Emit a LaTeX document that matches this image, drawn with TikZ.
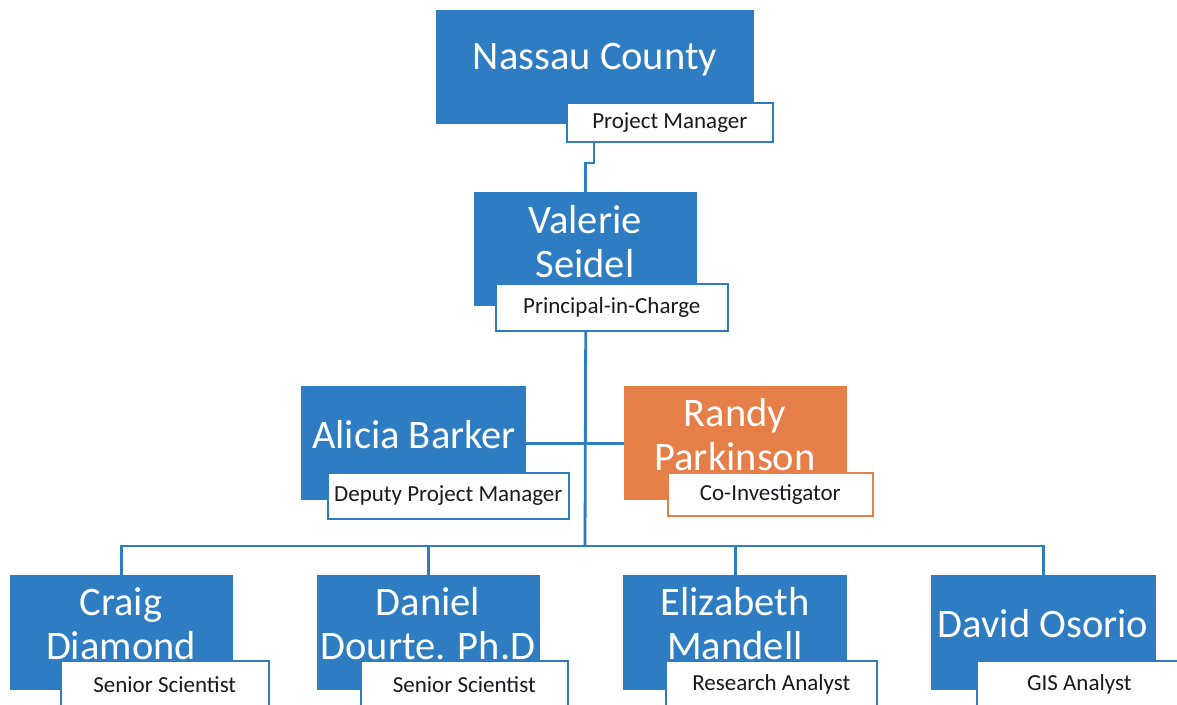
\documentclass[tikz,border=0pt]{standalone}
\usepackage{fontspec}
\setmainfont{Carlito}
\definecolor{orgblue}{RGB}{46,125,194}
\definecolor{orgorange}{RGB}{230,126,72}
\definecolor{roletext}{RGB}{25,25,30}
\tikzset{
  namebox/.style={fill=orgblue, draw=none, anchor=north west, inner sep=0pt},
  orangebox/.style={namebox, fill=orgorange},
  rolebox/.style={fill=white, draw=orgblue, line width=1.6pt, anchor=north west, inner sep=0pt,
     text=roletext, font=\fontsize{23}{26}\selectfont},
  orangerole/.style={rolebox, draw=orgorange},
  nametext/.style={text=white, align=center, inner sep=0pt, font=\fontsize{40.5}{44}\selectfont},
  toptext/.style={nametext},
  conn/.style={draw=orgblue, line width=2.8pt}
}
\begin{document}
\begin{tikzpicture}[x=1pt,y=-1pt]
\useasboundingbox (0,0) rectangle (1177,704);
% top
\node[namebox, minimum width=318pt, minimum height=114pt] (nassau) at (436,10) {};
\node[toptext] (nassauT) at (595,60) {Nassau County};
\node[rolebox, minimum width=206pt, minimum height=39pt] (nassauR) at (566,102) {Project Manager};
% Valerie
\node[namebox, minimum width=223pt, minimum height=114pt] (valerie) at (474,192) {};
\node[nametext] (valerieT) at (585,242) {Valerie\\Seidel};
\node[rolebox, minimum width=232pt, minimum height=47pt] (valerieR) at (495,283) {Principal-in-Charge};
% Alicia
\node[namebox, minimum width=225pt, minimum height=114pt] (alicia) at (301,386) {};
\node[nametext] (aliciaT) at (414,435) {Alicia Barker};
\node[rolebox, minimum width=241pt, minimum height=46pt] (aliciaR) at (327,472) {Deputy Project Manager};
% Randy
\node[orangebox, minimum width=223pt, minimum height=114pt] (randy) at (624,386) {};
\node[nametext] (randyT) at (735,435) {Randy\\Parkinson};
\node[orangerole, minimum width=205pt, minimum height=43pt] (randyR) at (667,472) {Co-Investigator};
% bottom row
\node[namebox, minimum width=223pt, minimum height=115pt] (craig) at (10,575) {};
\node[nametext] (craigT) at (121,624) {Craig\\Diamond};
\node[rolebox, minimum width=208pt, minimum height=48pt] (craigR) at (60,660) {Senior Scientist};
\node[namebox, minimum width=223pt, minimum height=115pt] (daniel) at (317,575) {};
\node[nametext] (danielT) at (428,624) {Daniel\\Dourte. Ph.D};
\node[rolebox, minimum width=207pt, minimum height=48pt] (danielR) at (360,660) {Senior Scientist};
\node[namebox, minimum width=224pt, minimum height=115pt] (eliz) at (623,575) {};
\node[nametext] (elizT) at (735,624) {Elizabeth\\Mandell};
\node[rolebox, minimum width=211pt, minimum height=48pt] (elizR) at (665,660) {Research Analyst};
\node[namebox, minimum width=225pt, minimum height=115pt] (david) at (931,575) {};
\node[nametext] (davidT) at (1043,624) {David Osorio};
\node[rolebox, minimum width=205pt, minimum height=48pt] (davidR) at (976,660) {GIS Analyst};
% connectors
\coordinate (j1) at (594,163);
\coordinate (bus) at (585,546);
\draw[conn] (nassauR.south -| j1) -- (j1) -| (valerie.north);
\draw[conn] (valerieR.south -| valerie.south) -- (bus);
\draw[conn] (alicia.east) -- (alicia.east -| randy.west);
\draw[conn] (craig.north) -- (craig.north |- bus) -- (david.north |- bus) -- (david.north);
\draw[conn] (daniel.north) -- (daniel.north |- bus);
\draw[conn] (eliz.north) -- (eliz.north |- bus);
\end{tikzpicture}
\end{document}
